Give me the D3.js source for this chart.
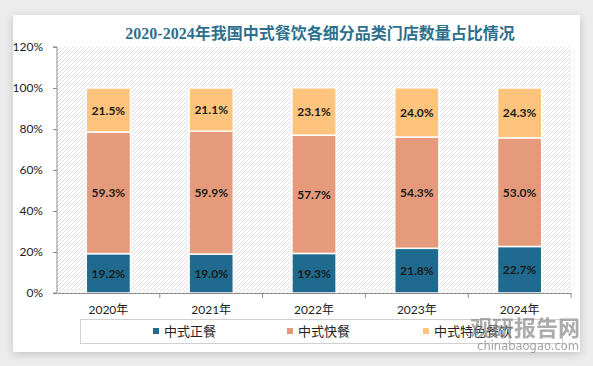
<!DOCTYPE html>
<html lang="zh">
<head>
<meta charset="utf-8">
<title>中式餐饮门店数量占比</title>
<script src="https://cdn.jsdelivr.net/npm/d3@7"></script>
<style>
  body { margin: 0; background: #ececec; }
  svg { display: block; }
</style>
</head>
<body>
<svg id="chart" width="593" height="366"></svg>
<script>
// data
var years = ['2020年', '2021年', '2022年', '2023年', '2024年'];
var seriesNames = ['中式正餐', '中式快餐', '中式特色餐饮'];
var zhengcan = [19.2, 19.0, 19.3, 21.8, 22.7];
var kuaican = [59.3, 59.9, 57.7, 54.3, 53.0];
var tese = [21.5, 21.1, 23.1, 24.0, 24.3];
var yTicks = [0, 20, 40, 60, 80, 100, 120];
var colors = ['#1f6a8e', '#e59b7b', '#fec37c'];

var svg = d3.select('#chart');

// card with shadow
var defs = svg.append('defs');
var f = defs.append('filter').attr('id', 'sh').attr('x', '-5%').attr('y', '-5%').attr('width', '110%').attr('height', '115%');
f.append('feDropShadow').attr('dx', 0).attr('dy', 2).attr('stdDeviation', 4).attr('flood-color', '#000').attr('flood-opacity', 0.18);

var pat = defs.append('pattern').attr('id', 'hatch').attr('patternUnits', 'userSpaceOnUse')
  .attr('width', 4).attr('height', 4);
pat.append('rect').attr('width', 4).attr('height', 4).attr('fill', '#fff');
pat.append('path').attr('d', 'M-1,1 l2,-2 M0,4 l4,-4 M3,5 l2,-2')
  .attr('stroke', '#d4d4d4').attr('stroke-width', 0.8);

svg.append('rect').attr('x', 13).attr('y', 15).attr('width', 567).attr('height', 337)
  .attr('fill', '#fff').attr('filter', 'url(#sh)');

svg.append('text').attr('x', 320).attr('y', 39).attr('text-anchor', 'middle')
  .style('font-family', '"Liberation Serif", "Noto Sans CJK SC", serif')
  .style('font-weight', 'bold').style('font-size', '16px').attr('fill', '#2e6f8e')
  .text('2020-2024年我国中式餐饮各细分品类门店数量占比情况');

var x0 = 57, x1 = 571;
var x = d3.scaleBand().domain(years).range([x0, x1]).paddingInner(0.57).paddingOuter(0.285);
var y = d3.scaleLinear().domain([0, 120]).range([293, 47]);

// plot background
svg.append('rect').attr('x', x0).attr('y', y(120)).attr('width', x1 - x0).attr('height', y(0) - y(120))
  .attr('fill', 'url(#hatch)');

// stacked bars
var rows = years.map(function(yr, i) {
  return { year: yr, a: zhengcan[i], b: kuaican[i], c: tese[i] };
});
var stack = d3.stack().keys(['a', 'b', 'c'])(rows);

var g = svg.append('g');
stack.forEach(function(layer, k) {
  g.selectAll('.bar' + k).data(layer).enter().append('rect')
    .attr('x', function(d) { return x(d.data.year); })
    .attr('y', function(d) { return y(d[1]); })
    .attr('width', x.bandwidth())
    .attr('height', function(d) { return y(d[0]) - y(d[1]); })
    .attr('fill', colors[k])
    .attr('stroke', '#fff').attr('stroke-width', 1.5);
  g.selectAll('.lab' + k).data(layer).enter().append('text')
    .attr('x', function(d) { return x(d.data.year) + x.bandwidth() / 2; })
    .attr('y', function(d) { return (y(d[0]) + y(d[1])) / 2 + 4.5; })
    .attr('text-anchor', 'middle')
    .style('font-family', 'Lato, "Open Sans", sans-serif').style('font-weight', 'bold').style('font-size', '12px')
    .attr('fill', '#1a1a1a')
    .text(function(d) { return (d[1] - d[0]).toFixed(1) + '%'; });
});

// axes
var yAxis = svg.append('g').attr('transform', 'translate(' + x0 + ',0)')
  .call(d3.axisLeft(y).tickValues(yTicks).tickSize(4).tickPadding(10).tickFormat(function(d) { return d + '%'; }));
var xAxis = svg.append('g').attr('transform', 'translate(0,' + y(0) + ')')
  .call(d3.axisBottom(x).tickSize(0).tickPadding(12));
[yAxis, xAxis].forEach(function(ax) {
  ax.select('.domain').attr('stroke', '#8c8c8c');
  ax.selectAll('line').attr('stroke', '#8c8c8c');
  ax.selectAll('text').style('font-family', 'Lato, "Noto Sans CJK SC", sans-serif')
    .style('font-size', '12px').attr('fill', '#222');
});
yAxis.select('.domain').attr('d', 'M-4,' + y(120) + 'H0V' + y(0) + 'H-4');
// category separators
xAxis.selectAll('.sep').data(years).enter().append('line')
  .attr('x1', function(d) { return x(d) + x.bandwidth() + x.step() * x.paddingInner() / 2; })
  .attr('x2', function(d) { return x(d) + x.bandwidth() + x.step() * x.paddingInner() / 2; })
  .attr('y1', 0).attr('y2', 5).attr('stroke', '#8c8c8c');

// legend
svg.append('rect').attr('x', 80.5).attr('y', 319.5).attr('width', 482).attr('height', 24)
  .attr('fill', 'none').attr('stroke', '#d0d0d0');
var legX = [153, 287, 423];
var leg = svg.selectAll('.leg').data(seriesNames).enter().append('g')
  .attr('transform', function(d, i) { return 'translate(' + legX[i] + ',331)'; });
leg.append('rect').attr('x', 0).attr('y', -3).attr('width', 6).attr('height', 6)
  .attr('fill', function(d, i) { return colors[i]; });
leg.append('text').attr('x', 11).attr('y', 5)
  .style('font-family', '"Noto Sans CJK SC", sans-serif').style('font-size', '13px').attr('fill', '#222')
  .text(function(d) { return d; });

// watermark
svg.append('text').attr('x', 580).attr('y', 336).attr('text-anchor', 'end')
  .style('font-family', '"Noto Sans CJK SC", sans-serif').style('font-weight', 'bold').style('font-size', '22px')
  .attr('fill', '#8a8a8a').attr('opacity', 0.7).text('观研报告网');
svg.append('text').attr('x', 579).attr('y', 350).attr('text-anchor', 'end')
  .style('font-family', '"DejaVu Sans", sans-serif').style('font-size', '11.5px')
  .attr('fill', '#8a8a8a').attr('opacity', 0.8).text('chinabaogao.com');
</script>
</body>
</html>
